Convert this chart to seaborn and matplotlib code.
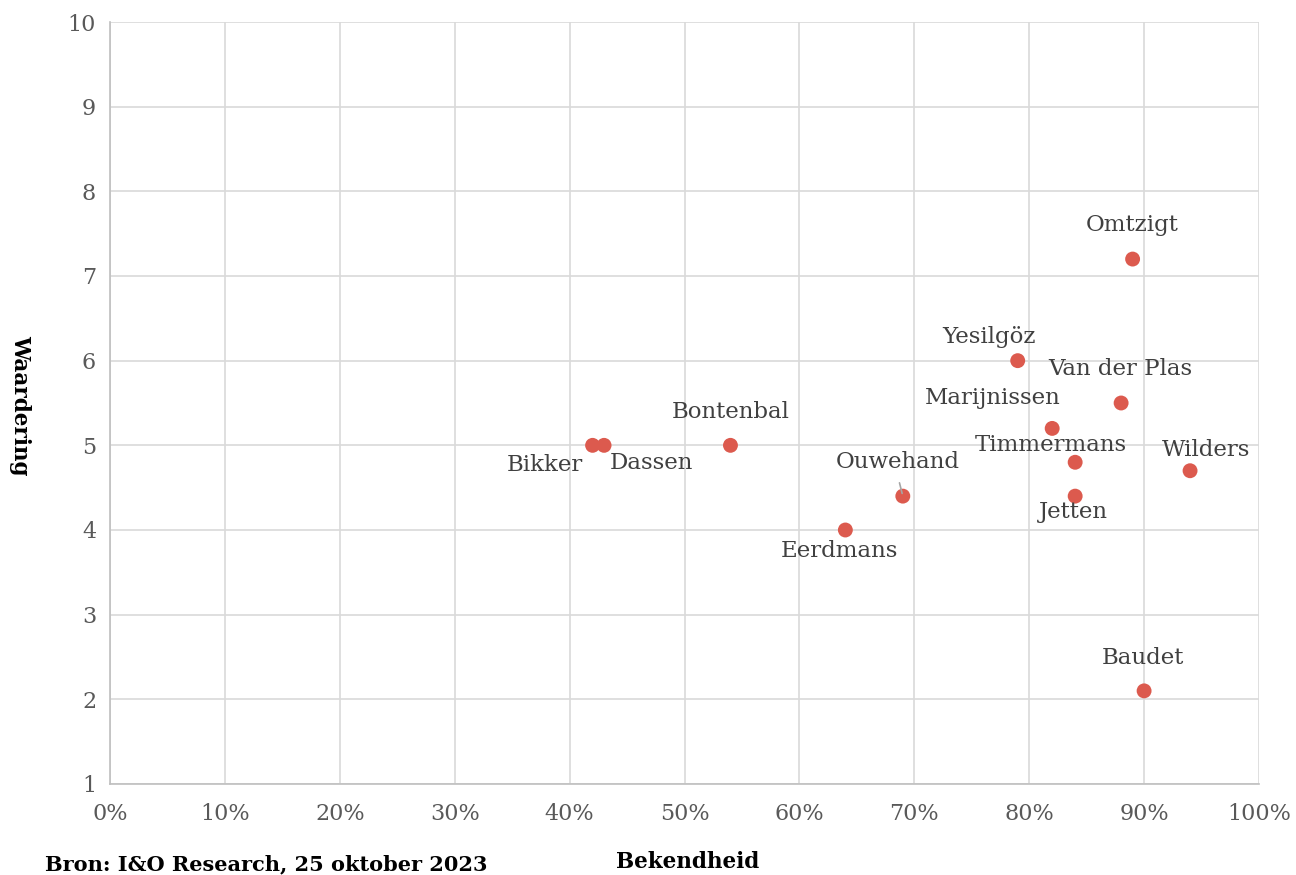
import matplotlib
matplotlib.use("Agg")
import matplotlib.pyplot as plt
import seaborn as sns
import pandas as pd
from matplotlib.ticker import PercentFormatter

# data
names = ["Bikker", "Dassen", "Bontenbal", "Eerdmans", "Ouwehand", "Yesilgöz",
         "Marijnissen", "Timmermans", "Jetten", "Van der Plas", "Omtzigt",
         "Wilders", "Baudet"]
bekendheid = [0.42, 0.43, 0.54, 0.64, 0.69, 0.79, 0.82, 0.84, 0.84, 0.88, 0.89, 0.94, 0.90]
waardering = [5.0, 5.0, 5.0, 4.0, 4.4, 6.0, 5.2, 4.8, 4.4, 5.5, 7.2, 4.7, 2.1]

# label offsets in pixels (dx, dy) relative to the point
offsets = {
    "Bikker": (-48, -20), "Dassen": (47, -18), "Bontenbal": (0, 33),
    "Eerdmans": (-6, -21), "Ouwehand": (-5, 34), "Yesilgöz": (-29, 24),
    "Marijnissen": (-59, 30), "Timmermans": (-24, 17), "Jetten": (-2, -16),
    "Van der Plas": (-1, 34), "Omtzigt": (0, 34), "Wilders": (16, 21),
    "Baudet": (-1, 33),
}

df = pd.DataFrame({"naam": names, "Bekendheid": bekendheid, "Waardering": waardering})

sns.set_style("white")
plt.rcParams["font.family"] = ["DejaVu Serif"]

fig = plt.figure(figsize=(12.96, 8.75), dpi=100)
ax = fig.add_axes([110 / 1296, 1 - 784 / 875, (1259 - 110) / 1296, (784 - 22) / 875])

sns.scatterplot(data=df, x="Bekendheid", y="Waardering", ax=ax, color="#dc5a4e",
                s=115, edgecolor="none", zorder=3)

ax.set_xlim(0, 1)
ax.set_ylim(1, 10)
ax.set_xticks([i / 10 for i in range(11)])
ax.set_yticks(range(1, 11))
ax.xaxis.set_major_formatter(PercentFormatter(1.0, decimals=0))
ax.grid(True, color="#d9d9d9", linewidth=1.2)
ax.set_axisbelow(True)
for side in ["top", "right"]:
    ax.spines[side].set_visible(False)
for side in ["left", "bottom"]:
    ax.spines[side].set_color("#bfbfbf")
    ax.spines[side].set_linewidth(1.2)
ax.tick_params(length=0, labelsize=16, colors="#595959")
ax.tick_params(axis="x", pad=14)
ax.tick_params(axis="y", pad=10)

ax.set_xlabel("")
ax.set_ylabel("")
fig.text(688 / 1296, 1 - 862 / 875, "Bekendheid", ha="center", va="center",
         fontsize=15.5, fontweight="bold", color="black")
fig.text(20 / 1296, 1 - 405 / 875, "Waardering", ha="center", va="center",
         rotation=270, fontsize=15.5, fontweight="bold", color="black")
fig.text(45 / 1296, 1 - 864 / 875, "Bron: I&O Research, 25 oktober 2023",
         ha="left", va="center", fontsize=15, fontweight="bold", color="black")

px = 72 / 100  # pixels to points
for n, x, y in zip(names, bekendheid, waardering):
    dx, dy = offsets[n]
    ax.annotate(n, (x, y), xytext=(dx * px, dy * px), textcoords="offset points",
                ha="center", va="center", fontsize=16.5, color="#404040")

# leader line for Ouwehand
ax.annotate("", (0.69, 4.4), xytext=(-4 * px, 16 * px), textcoords="offset points",
            arrowprops=dict(arrowstyle="-", color="#a6a6a6", lw=1.2))

fig.savefig("out.png", dpi=100)
